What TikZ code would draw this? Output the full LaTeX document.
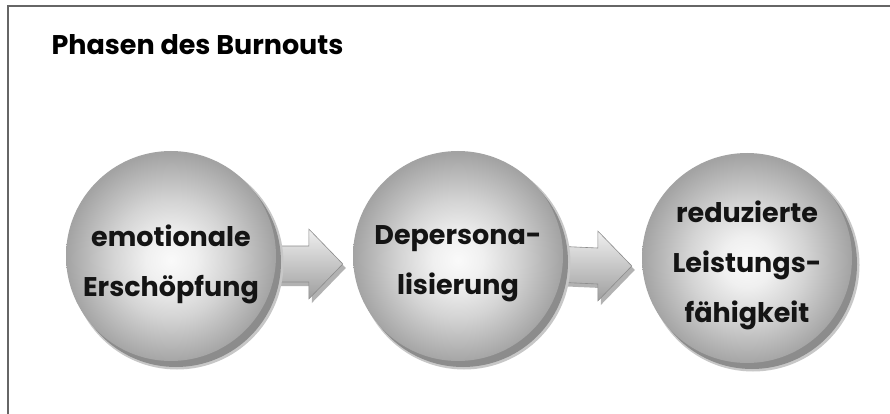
\documentclass[tikz,border=0pt]{standalone}
\usepackage{fontspec}
\setmainfont{Poppins}
\usetikzlibrary{calc,shadows,fadings}
\pgfdeclareradialshading{ballshade}{\pgfpoint{0bp}{-1bp}}{%
  color(0bp)=(black!2); color(6bp)=(black!6); color(14bp)=(black!17);
  color(21bp)=(black!29); color(25bp)=(black!36); color(50bp)=(black!36)}
\tikzset{
  phase/.style={circle, minimum size=210pt, inner sep=0pt, shading=ballshade},
  phaseshadow/.style={circle, minimum size=210pt, inner sep=0pt, fill=black!45},
  phaseblur/.style={circle, minimum size=213pt, inner sep=0pt, fill=black!22},
  phasetext/.style={font=\fontsize{27}{50}\selectfont\bfseries, align=center, text=black!92},
  blockarr/.style={draw=black!45, line width=0.6pt, top color=black!6, bottom color=black!38,
    drop shadow={shadow xshift=3pt, shadow yshift=-4pt, opacity=0.5, fill=black!60}},
  frameline/.style={draw=black!60, line width=2pt},
}
\newcommand\blockarrow[2]{%
  \coordinate (#1s) at ($(#1.east)+(-10,8)$);
  \coordinate (#1t) at ($(#2.west)+(-10,8)$);
  \draw[blockarr] ($(#1s)+(0,-18)$) -- ($(#1t)+(-34,-18)$) -- ($(#1t)+(-34,-35)$)
    -- (#1t) -- ($(#1t)+(-34,35)$) -- ($(#1t)+(-34,18)$) -- ($(#1s)+(0,18)$) -- cycle;
}
\newcommand\phaseball[1]{%
  \node[phaseblur] at ($(#1)+(6,7)$) {};
  \node[phaseshadow] at ($(#1)+(5,6)$) {};
  \node[phase] at (#1) {};
}
\begin{document}
\begin{tikzpicture}[x=1pt,y=-1pt]
  \useasboundingbox[fill=white] (0,0) rectangle (890,414);
  \draw[frameline] (8,414) -- (8,6) -- (890,6);
  \node[anchor=base west, font=\fontsize{27}{32}\selectfont\bfseries] (title) at (48,55) {Phasen des Burnouts};
  \path (171,256) node[circle, minimum size=210pt, inner sep=0pt] (c1) {}
        (458,256) node[circle, minimum size=210pt, inner sep=0pt] (c2) {}
        (747,258) node[circle, minimum size=210pt, inner sep=0pt] (c3) {};
  \blockarrow{c1}{c2}
  \blockarrow{c2}{c3}
  \phaseball{c1}
  \phaseball{c2}
  \phaseball{c3}
  \node[phasetext] (t1) at ($(c1)+(0,8)$) {emotionale\\Erschöpfung};
  \node[phasetext] (t2) at ($(c2)+(0,8)$) {Depersona-\\lisierung};
  \node[phasetext] (t3) at ($(c3)+(0,7)$) {reduzierte\\Leistungs-\\fähigkeit};
\end{tikzpicture}
\end{document}
